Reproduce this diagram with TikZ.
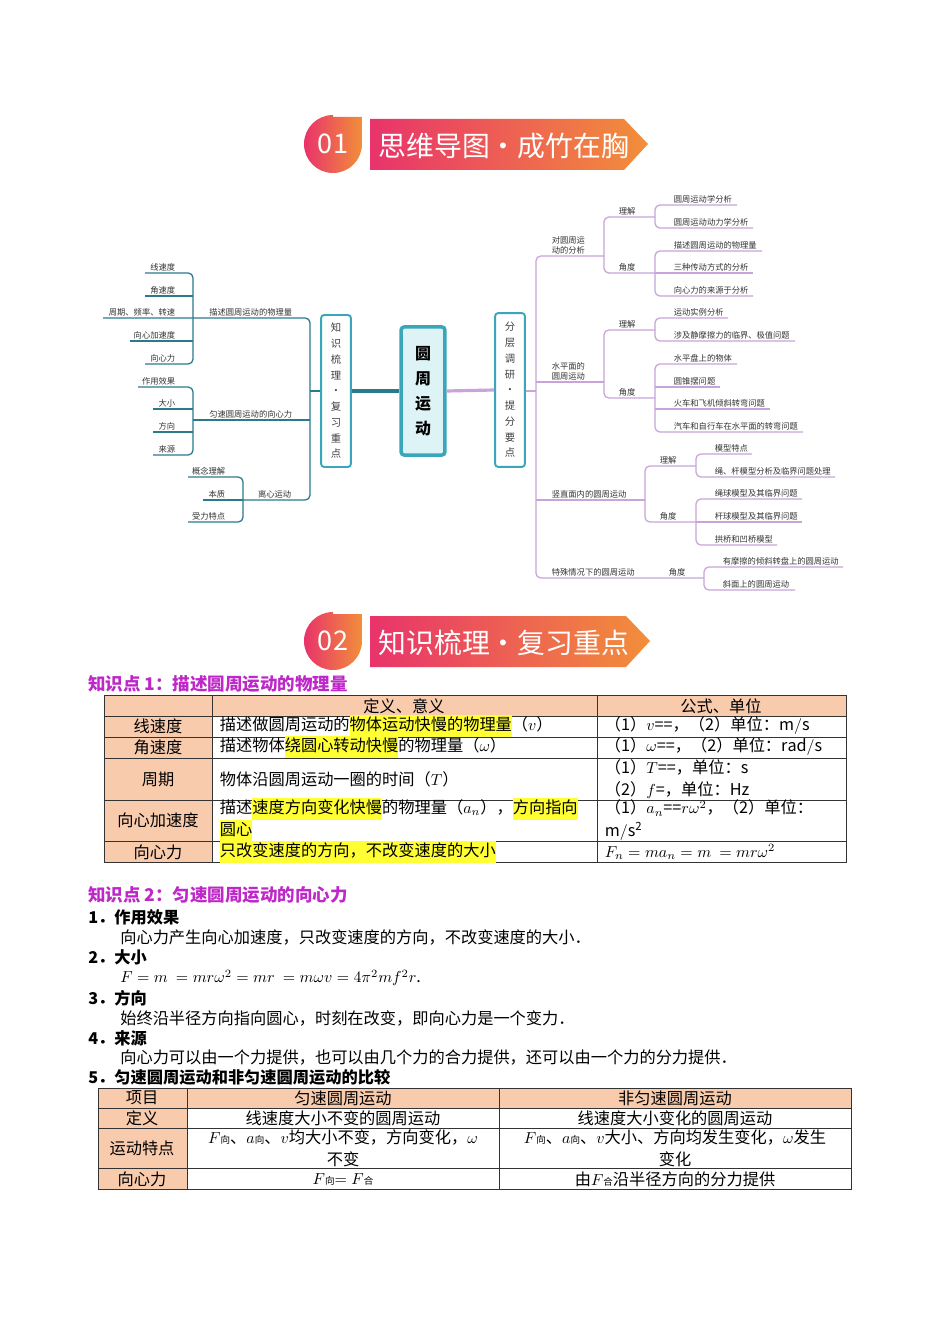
\documentclass[tikz,border=0pt]{standalone}
\usepackage{fontspec}
\setmainfont{Noto Sans CJK SC}
\usepackage{xcolor}
\usetikzlibrary{positioning, calc}
\definecolor{tealln}{HTML}{2B7A8C}
\definecolor{tealbx}{HTML}{3AA6B9}
\definecolor{cyanfl}{HTML}{DDF3F5}
\definecolor{purpln}{HTML}{C9A3DA}
\definecolor{ribA}{HTML}{E8336B}
\definecolor{ribB}{HTML}{F28F3A}
\definecolor{peach}{HTML}{F8CBAD}
\definecolor{hly}{HTML}{FFFF33}
\definecolor{headc}{HTML}{BE28C8}
\newcommand\hlt[1]{{\setlength\fboxsep{0pt}\colorbox{hly}{\strut #1}}}
\newcommand\smsub[1]{{\fontsize{6}{6}\selectfont #1}}
\tikzset{
  % mind map lines
  lt/.style={draw=tealln, line width=0.8pt, rounded corners=3},
  rt/.style={draw=purpln, line width=0.8pt, rounded corners=3},
  % mind map labels
  lf/.style={font=\fontsize{5.2}{6.5}\selectfont, inner sep=1pt, text=black!80},
  vbox/.style={draw=tealbx, line width=1.2pt, rounded corners=2pt, fill=white,
    align=center, font=\fontsize{6.5}{9.9}\selectfont, text=black!75},
  % tables
  tcell/.style={font=\fontsize{10.2}{14}\selectfont, inner sep=1pt},
  grid/.style={draw=black!80, line width=0.6pt},
  body/.style={font=\fontsize{10.2}{13}\selectfont, anchor=west, inner sep=0pt},
  heading/.style={font=\bfseries\fontsize{11}{13}\selectfont, text=headc, anchor=west, inner sep=0pt},
  item/.style={font=\bfseries\fontsize{10.2}{13}\selectfont, anchor=west, inner sep=0pt},
}
\begin{document}
\begin{tikzpicture}[x=0.0221cm, y=-0.0221cm]
\useasboundingbox[fill=white] (0,0) rectangle (950,1344);

% ---- banner 01
\shade[left color=ribA, right color=ribB] (333,117) -- (362,117) -- (362,144) arc[start angle=0, end angle=270, radius=29] -- cycle;
\node[text=white, font=\fontsize{17}{17}\selectfont] (n01) at (333,144) {01};
\shade[left color=ribA, right color=ribB] (370,119) -- (624,119) -- (648,144) -- (624,170) -- (370,170) -- cycle;
\node[text=white, font=\fontsize{17.5}{18}\selectfont, anchor=west] (t01) at (373,146) {思维导图·成竹在胸};

% ---- mind map boxes
\node[vbox] (kb) at (336,391) [minimum width=0.66cm, minimum height=3.36cm] {知\\识\\梳\\理\\·\\复\\习\\重\\点};
\node[vbox, draw=tealbx, line width=2.2pt, fill=cyanfl, font=\bfseries\fontsize{10}{15.6}\selectfont, text=black]
  (yz) at (423,391) [minimum width=0.97cm, minimum height=2.83cm] {圆\\周\\运\\动};
\node[vbox] (fc) at (510,390) [minimum width=0.66cm, minimum height=3.40cm] {分\\层\\调\\研\\·\\提\\分\\要\\点};
\draw[tealln, line width=2pt] (kb.east) -- (yz.west);
\draw[purpln, line width=2pt] (yz.east) -- (fc.west);

% ---- left tree
\draw[lt] (310,391) -- (kb.west);
\draw[lt] (103,318) -- (310,318) -- (310,500) -- (243,500);
\draw[lt] (193,420) -- (310,420);
\draw[lt] (145,273) -- (193,273) -- (193,364) -- (145,364);
\draw[lt] (145,296) -- (193,296);
\draw[lt] (130,341) -- (193,341);
\draw[lt] (138,387) -- (193,387) -- (193,455) -- (153,455);
\draw[lt] (153,409) -- (193,409);
\draw[lt] (153,432) -- (193,432);
\draw[lt] (188,477) -- (243,477) -- (243,522) -- (188,522);
\draw[lt] (203,500) -- (243,500);
\foreach \y/\t [count=\i] in {273/线速度, 296/角速度, 318/{周期、频率、转速}, 341/向心加速度, 364/向心力,
    387/作用效果, 409/大小, 432/方向, 455/来源}
  \node[lf, anchor=south east] (la\i) at (177,\y) {\t};
\foreach \y/\t [count=\i] in {477/概念理解, 500/本质, 522/受力特点}
  \node[lf, anchor=south east] (lc\i) at (227,\y) {\t};
\node[lf, anchor=south east] (lb1) at (294,318) {描述圆周运动的物理量};
\node[lf, anchor=south east] (lb2) at (294,420) {匀速圆周运动的向心力};
\node[lf, anchor=south east] (lb3) at (293,500) {离心运动};

% ---- right tree
\draw[rt] (fc.east |- 391,391) -- (536,391);
\draw[rt] (604,256) -- (536,256) -- (536,578) -- (704,578);
\draw[rt] (536,382) -- (604,382);
\draw[rt] (536,500) -- (645,500);
\draw[rt] (655,217) -- (604,217) -- (604,273) -- (655,273);
\draw[rt] (737,205) -- (655,205) -- (655,228) -- (753,228);
\draw[rt] (762,251) -- (655,251) -- (655,296) -- (753,296);
\draw[rt] (655,273) -- (753,273);
\draw[rt] (655,330) -- (604,330) -- (604,398) -- (655,398);
\draw[rt] (728,318) -- (655,318) -- (655,341) -- (795,341);
\draw[rt] (737,364) -- (655,364) -- (655,432) -- (803,432);
\draw[rt] (655,387) -- (720,387);
\draw[rt] (655,409) -- (770,409);
\draw[rt] (696,466) -- (645,466) -- (645,522) -- (696,522);
\draw[rt] (752,454) -- (696,454) -- (696,477) -- (835,477);
\draw[rt] (802,499) -- (696,499) -- (696,545) -- (777,545);
\draw[rt] (696,522) -- (802,522);
\draw[rt] (843,567) -- (704,567) -- (704,590) -- (795,590);
\node[lf, anchor=south west, align=left] (ra) at (550,256) {对圆周运\\动的分析};
\node[lf, anchor=south west, align=left] (rb) at (550,382) {水平面的\\圆周运动};
\node[lf, anchor=south west] (rc) at (550,500) {竖直面内的圆周运动};
\node[lf, anchor=south west] (rd) at (550,578) {特殊情况下的圆周运动};
\foreach \x/\y/\t [count=\i] in {617/217/理解, 617/273/角度, 617/330/理解, 617/398/角度,
    658/466/理解, 658/522/角度, 667/578/角度}
  \node[lf, anchor=south west] (rs\i) at (\x,\y) {\t};
\foreach \x/\y/\t [count=\i] in {
    672/205/圆周运动学分析, 672/228/圆周运动动力学分析, 672/251/描述圆周运动的物理量,
    672/273/三种传动方式的分析, 672/296/向心力的来源于分析, 672/318/运动实例分析,
    672/341/{涉及静摩擦力的临界、极值问题}, 672/364/水平盘上的物体, 672/387/圆锥摆问题,
    672/409/火车和飞机倾斜转弯问题, 672/432/汽车和自行车在水平面的转弯问题,
    713/454/模型特点, 713/477/{绳、杆模型分析及临界问题处理}, 713/499/绳球模型及其临界问题,
    713/522/杆球模型及其临界问题, 713/545/拱桥和凹桥模型,
    721/567/有摩擦的倾斜转盘上的圆周运动, 721/590/斜面上的圆周运动}
  \node[lf, anchor=south west] (rl\i) at (\x,\y) {\t};

% ---- banner 02
\shade[left color=ribA, right color=ribB] (333,614) -- (362,614) -- (362,641) arc[start angle=0, end angle=270, radius=29] -- cycle;
\node[text=white, font=\fontsize{17}{17}\selectfont] (n02) at (333,641) {02};
\shade[left color=ribA, right color=ribB] (370,616) -- (626,616) -- (650,641) -- (626,667) -- (370,667) -- cycle;
\node[text=white, font=\fontsize{17.5}{18}\selectfont, anchor=west] (t02) at (373,643) {知识梳理·复习重点};

% ---- table 1
\node[heading] (h1) at (88,684) {知识点 1：描述圆周运动的物理量};
\fill[peach] (104,695) rectangle (846,716);
\fill[peach] (104,716) rectangle (212,862);
\draw[grid] (104,695) rectangle (846,862);
\foreach \y in {716,737,758,800,841} \draw[grid] (104,\y) -- (846,\y);
\foreach \x in {212,597} \draw[grid] (\x,695) -- (\x,862);
\node[tcell] (c11) at (404,706) {定义、意义};
\node[tcell] (c12) at (721,706) {公式、单位};
\foreach \y/\t [count=\i] in {726/线速度, 747/角速度, 779/周期, 820/向心加速度, 852/向心力}
  \node[tcell] (k\i) at (158,\y) {\t};
\node[tcell, anchor=west] (d1) at (218,726) {描述做圆周运动的\hlt{物体运动快慢的物理量}（$v$）};
\node[tcell, anchor=west] (d2) at (218,747) {描述物体\hlt{绕圆心转动快慢}的物理量（$\omega$）};
\node[tcell, anchor=west] (d3) at (218,779) {物体沿圆周运动一圈的时间（$T$）};
\node[tcell, anchor=west, align=left] (d4) at (218,820) {描述\hlt{速度方向变化快慢}的物理量（$a_n$），\hlt{方向指向}\\\hlt{圆心}};
\node[tcell, anchor=west] (d5) at (218,852) {\hlt{只改变速度的方向，不改变速度的大小}};
\node[tcell, anchor=west] (f1) at (603,726) {（1）$v$==，（2）单位：$\mathrm{m/s}$};
\node[tcell, anchor=west] (f2) at (603,747) {（1）$\omega$==，（2）单位：$\mathrm{rad/s}$};
\node[tcell, anchor=west, align=left] (f3) at (603,779) {（1）$T$==，单位：$\mathrm{s}$\\（2）$f$=，单位：$\mathrm{Hz}$};
\node[tcell, anchor=west, align=left] (f4) at (603,820) {（1）$a_n$==$r\omega^2$，（2）单位：\\$\mathrm{m/s^2}$};
\node[tcell, anchor=west] (f5) at (603,852) {$F_n=ma_n=m\ =mr\omega^2$};

% ---- section 2
\node[heading] (h2) at (88,895) {知识点 2：匀速圆周运动的向心力};
\node[item] (i1) at (88,917) {1．作用效果};
\node[body] (b1) at (120,937) {向心力产生向心加速度，只改变速度的方向，不改变速度的大小．};
\node[item] (i2) at (88,957) {2．大小};
\node[body] (b2) at (120,978) {$F=m\ =mr\omega^2=mr\ =m\omega v=4\pi^2mf^2r$.};
\node[item] (i3) at (88,998) {3．方向};
\node[body] (b3) at (120,1018) {始终沿半径方向指向圆心，时刻在改变，即向心力是一个变力．};
\node[item] (i4) at (88,1038) {4．来源};
\node[body] (b4) at (120,1058) {向心力可以由一个力提供，也可以由几个力的合力提供，还可以由一个力的分力提供．};
\node[item] (i5) at (88,1077) {5．匀速圆周运动和非匀速圆周运动的比较};

% ---- table 2
\fill[peach] (98,1088) rectangle (851,1108);
\fill[peach] (98,1108) rectangle (187,1189);
\draw[grid] (98,1088) rectangle (851,1189);
\foreach \y in {1108,1128,1168} \draw[grid] (98,\y) -- (851,\y);
\foreach \x in {187,499} \draw[grid] (\x,1088) -- (\x,1189);
\foreach \y/\t [count=\i] in {1098/项目, 1118/定义, 1148/运动特点, 1179/向心力}
  \node[tcell] (p\i) at (142,\y) {\t};
\node[tcell] (u1) at (343,1098) {匀速圆周运动};
\node[tcell] (u2) at (343,1118) {线速度大小不变的圆周运动};
\node[tcell, align=center] (u3) at (343,1148) {$F$\smsub{向}、$a$\smsub{向}、$v$均大小不变，方向变化，$\omega$\\不变};
\node[tcell] (u4) at (343,1179) {$F$\smsub{向}$=F$\smsub{合}};
\node[tcell] (v1) at (675,1098) {非匀速圆周运动};
\node[tcell] (v2) at (675,1118) {线速度大小变化的圆周运动};
\node[tcell, align=center] (v3) at (675,1148) {$F$\smsub{向}、$a$\smsub{向}、$v$大小、方向均发生变化，$\omega$发生\\变化};
\node[tcell] (v4) at (675,1179) {由$F$\smsub{合}沿半径方向的分力提供};
\end{tikzpicture}
\end{document}
